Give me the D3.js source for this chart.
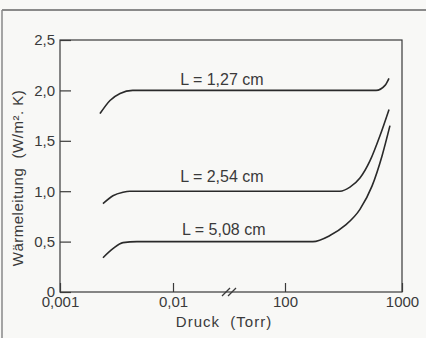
<!DOCTYPE html>
<html>
<head>
<meta charset="utf-8">
<script src="https://cdn.jsdelivr.net/npm/d3@7"></script>
<style>
  html, body { margin: 0; padding: 0; background: #f8f8f6; }
  #chart { width: 426px; height: 338px; font-family: 'Liberation Sans', Arial, sans-serif; }
</style>
</head>
<body>
<div id="chart"></div>
<script>
// pressure (Torr) and heat transfer (W/m²·K)
const seriesNames = ['L = 1,27 cm', 'L = 2,54 cm', 'L = 5,08 cm'];
const pressure127 = [0.00226, 0.00277, 0.0034, 0.0044, 0.01, 100, 600, 716, 774];
const value127    = [1.77, 1.90, 1.97, 2.0, 2.0, 2.0, 2.0, 2.05, 2.12];
const pressure254 = [0.0024, 0.00294, 0.00361, 0.00416, 0.01, 100, 295, 359, 437, 532, 648, 774];
const value254    = [0.876, 0.955, 0.99, 1.0, 1.0, 1.0, 1.0, 1.04, 1.13, 1.3, 1.55, 1.81];
const pressure508 = [0.0024, 0.00294, 0.00361, 0.0048, 0.01, 100, 173, 242, 326, 437, 554, 675, 789];
const value508    = [0.34, 0.43, 0.49, 0.5, 0.5, 0.5, 0.5, 0.56, 0.66, 0.82, 1.05, 1.35, 1.65];
// where each curve's label sits (pressure at start of text, value at its baseline)
const labelPressure = [0.018, 0.018, 0.021];
const labelValue = [2.05, 1.09, 0.565];

const xTicks = [0.001, 0.01, 100, 1000];
const xTickLabels = ['0,001', '0,01', '100', '1000'];
const yTicks = [0, 0.5, 1.0, 1.5, 2.0, 2.5];
const yTickLabels = ['0', '0,5', '1,0', '1,5', '2,0', '2,5'];

const W = 426, H = 338;
const margin = { top: 40, right: 24, bottom: 46, left: 60 };
const innerW = W - margin.left - margin.right;
const innerH = H - margin.top - margin.bottom;
const ink = '#3a3a3a';

const svg = d3.select('#chart').append('svg')
  .attr('width', W).attr('height', H);

// outer frame (top + left edges of the scanned figure)
svg.append('line').attr('x1', 2).attr('x2', W).attr('y1', 10).attr('y2', 10)
  .attr('stroke', '#666').attr('stroke-width', 1.5);
svg.append('line').attr('x1', 2).attr('x2', 2).attr('y1', 10).attr('y2', H)
  .attr('stroke', '#888').attr('stroke-width', 1.5);

const g = svg.append('g').attr('transform', `translate(${margin.left},${margin.top})`);

// broken log axis: 0.01 .. 100 squeezed into one segment
const x = d3.scaleLog().domain([0.001, 0.01, 100, 1000])
  .range([0, 113, 225, innerW]);
const y = d3.scaleLinear().domain([0, 2.5]).range([innerH, 0]);

g.append('rect').attr('x', 0).attr('y', 0).attr('width', innerW).attr('height', innerH)
  .attr('fill', 'none').attr('stroke', ink).attr('stroke-width', 1.2);

const yAxis = d3.axisLeft(y).tickValues(yTicks).tickSize(-11).tickPadding(5)
  .tickFormat((d, i) => yTickLabels[i]);
g.append('g').call(yAxis).call(a => a.select('.domain').remove())
  .call(a => a.selectAll('line').attr('stroke', ink).attr('stroke-width', 1.2))
  .call(a => a.selectAll('text').attr('fill', ink).style('font-size', '15px')
    .style('font-family', "'Liberation Sans', Arial, sans-serif"));

const xAxis = d3.axisBottom(x).tickValues(xTicks).tickSize(-9).tickPadding(4)
  .tickFormat((d, i) => xTickLabels[i]);
g.append('g').attr('transform', `translate(0,${innerH})`).call(xAxis)
  .call(a => a.select('.domain').remove())
  .call(a => a.selectAll('line').attr('stroke', ink).attr('stroke-width', 1.2))
  .call(a => a.selectAll('text').attr('fill', ink).style('font-size', '15px')
    .style('font-family', "'Liberation Sans', Arial, sans-serif"));

// axis break mark
const bx = x(1);
[-3, 3].forEach(off => {
  g.append('line').attr('x1', bx + off - 4).attr('x2', bx + off + 4)
    .attr('y1', innerH + 4).attr('y2', innerH - 4)
    .attr('stroke', ink).attr('stroke-width', 1.2);
});

// curves
const curves = [
  { p: pressure127, v: value127 },
  { p: pressure254, v: value254 },
  { p: pressure508, v: value508 }
];
const line = d3.line().x(d => x(d[0])).y(d => y(d[1])).curve(d3.curveMonotoneX);
curves.forEach(c => {
  g.append('path').datum(c.p.map((p, i) => [p, c.v[i]]))
    .attr('fill', 'none').attr('stroke', '#2a2a2a').attr('stroke-width', 1.6)
    .attr('d', line);
});

// curve labels
seriesNames.forEach((name, i) => {
  g.append('text').attr('x', x(labelPressure[i])).attr('y', y(labelValue[i]))
    .text(name).attr('fill', ink).style('font-size', '16px');
});

// axis titles
svg.append('text').attr('x', 224).attr('y', 327).attr('text-anchor', 'middle')
  .style('font-size', '15px').style('letter-spacing', '1px').attr('fill', ink)
  .attr('xml:space', 'preserve').text('Druck  (Torr)');
svg.append('text').attr('transform', 'translate(23,178) rotate(-90)')
  .attr('text-anchor', 'middle').style('font-size', '15px').style('letter-spacing', '0.5px')
  .attr('fill', ink).attr('xml:space', 'preserve').text('Wärmeleitung  (W/m². K)');
</script>
</body>
</html>
